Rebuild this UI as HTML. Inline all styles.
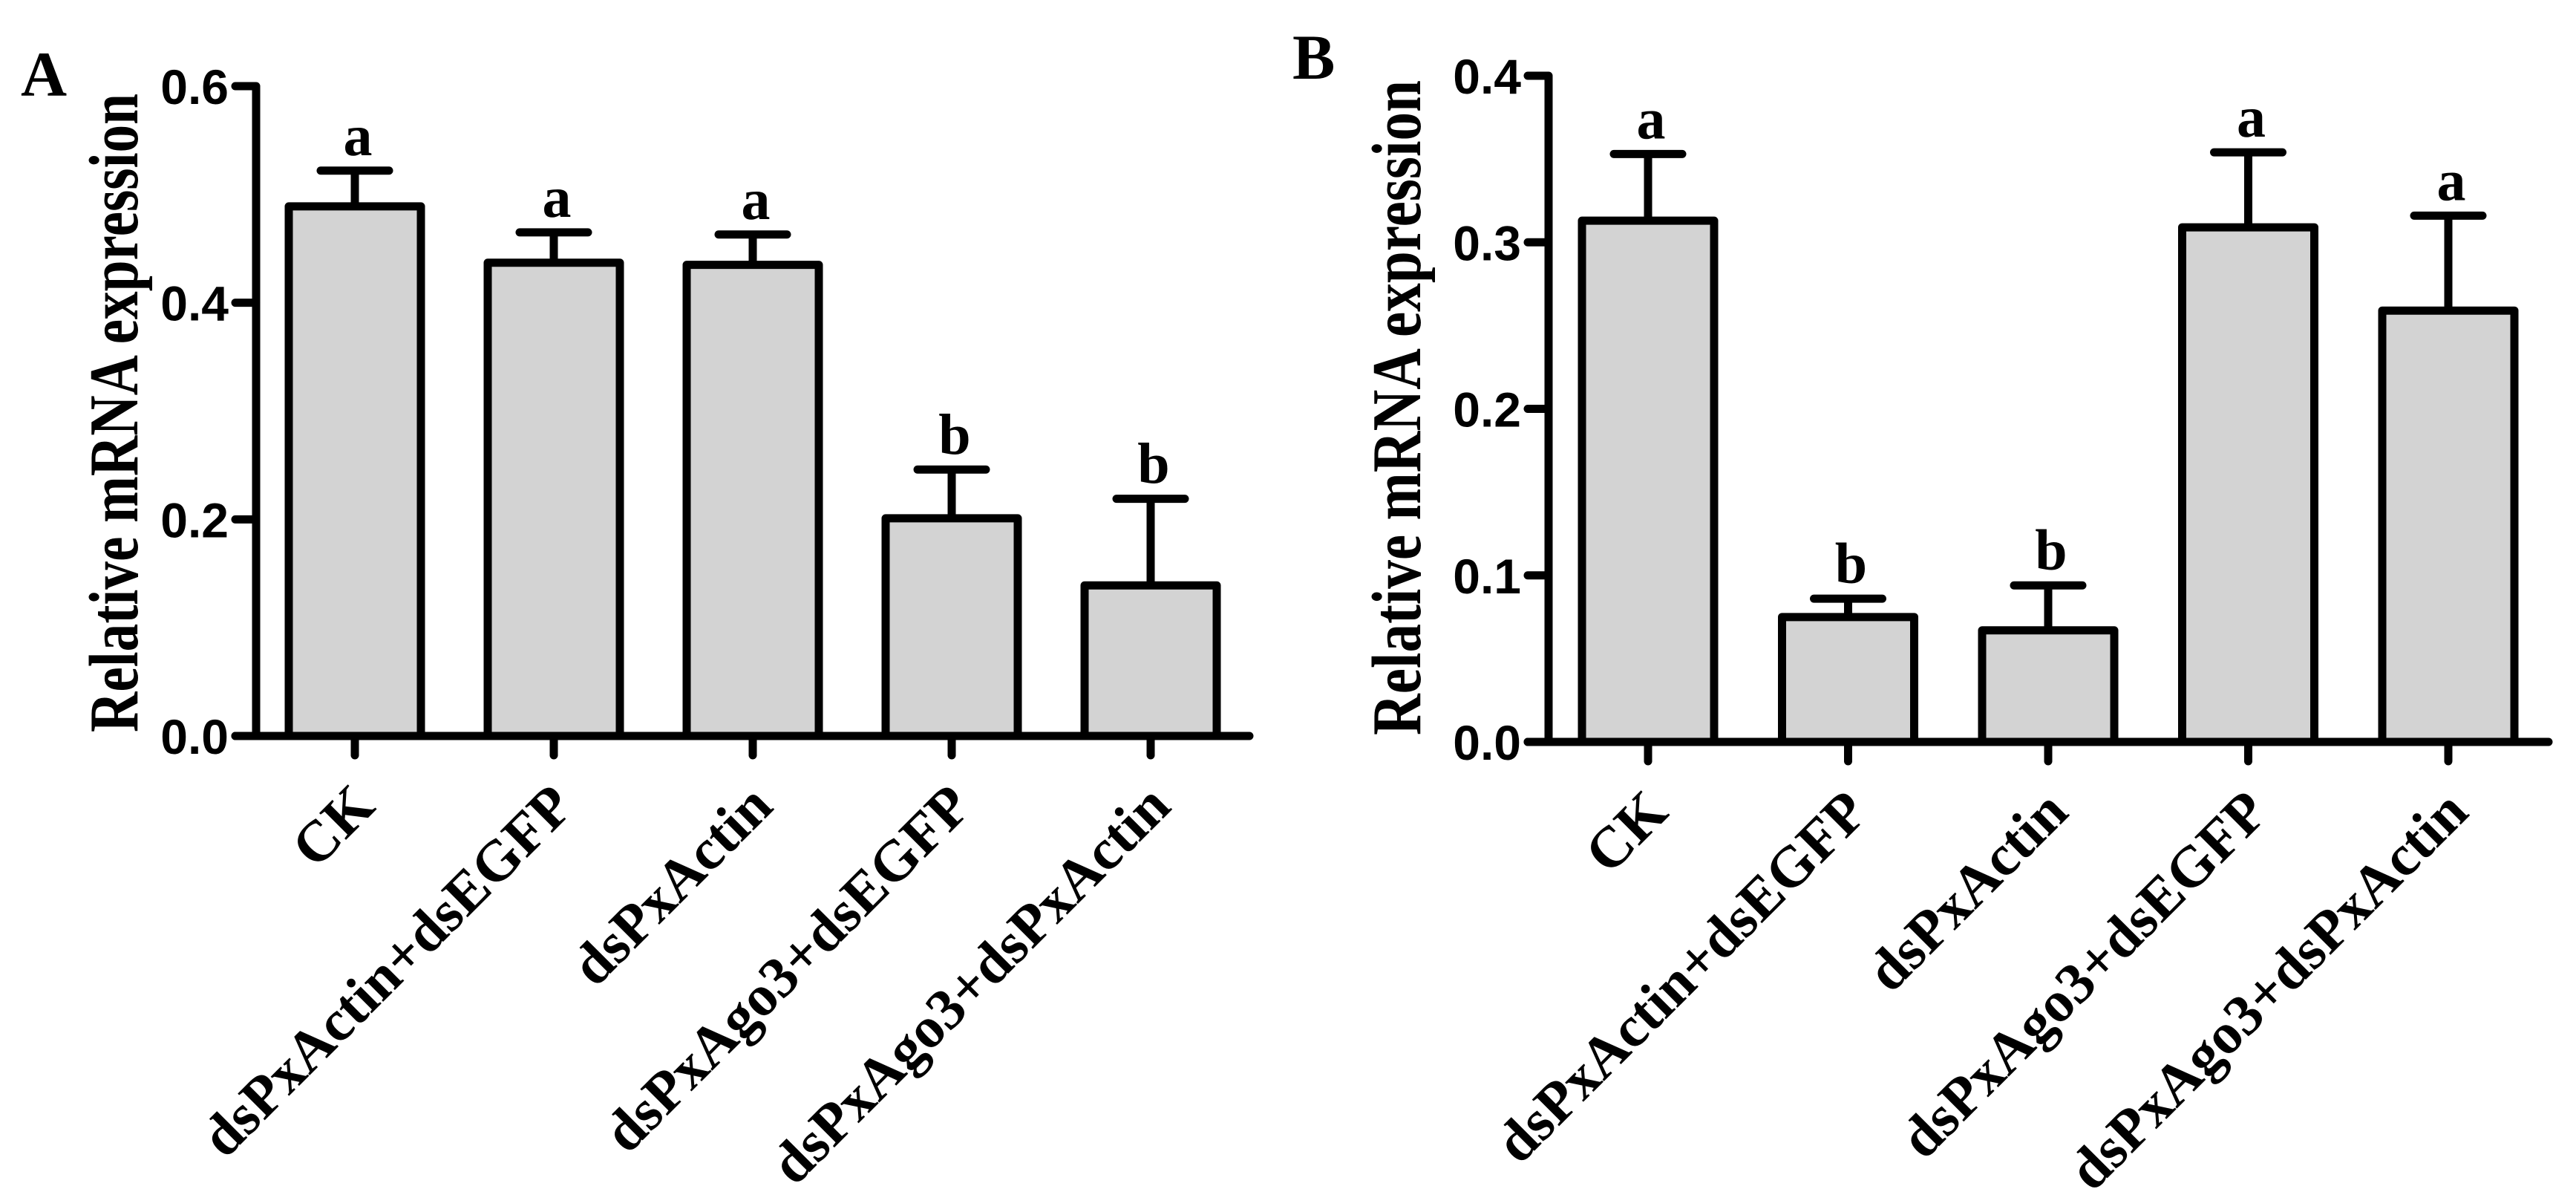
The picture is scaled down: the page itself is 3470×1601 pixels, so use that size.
<!DOCTYPE html>
<html><head><meta charset="utf-8"><style>html,body{margin:0;padding:0;background:#fff}svg{display:block}</style></head>
<body>
<svg id="chart" width="3470" height="1601" viewBox="0 0 3470 1601" xmlns="http://www.w3.org/2000/svg">
<g id="panelA"></g>
<g id="panelB"></g>
</svg>
<script>
const categories = ["CK","dsPxActin+dsEGFP","dsPxActin","dsPxAgo3+dsEGFP","dsPxAgo3+dsPxActin"];
const valuesA = [0.489, 0.437, 0.435, 0.201, 0.139];
const errorsA = [0.033, 0.028, 0.028, 0.045, 0.080];
const lettersA = ["a","a","a","b","b"];
const ticksA = [0.0, 0.2, 0.4, 0.6];
const tickLabelsA = ["0.0","0.2","0.4","0.6"];
const valuesB = [0.313, 0.075, 0.067, 0.309, 0.259];
const errorsB = [0.040, 0.011, 0.027, 0.045, 0.057];
const lettersB = ["a","b","b","a","a"];
const ticksB = [0.0, 0.1, 0.2, 0.3, 0.4];
const tickLabelsB = ["0.0","0.1","0.2","0.3","0.4"];

const NS = "http://www.w3.org/2000/svg";
function mk(tag, attrs, parent){ const e=document.createElementNS(NS,tag); for(const k in attrs) e.setAttribute(k,attrs[k]); parent.appendChild(e); return e; }

function drawPanel(g, cfg){
  const y = v => cfg.y0 - (v - 0) / cfg.ymax * (cfg.y0 - cfg.ytop);
  const xc = i => cfg.x1 + i * cfg.step;
  const lw = 11;
  const pl = mk("text",{x:cfg.lx,y:cfg.ly,"font-family":"Liberation Serif, serif","font-weight":"bold","font-size":86},g);
  pl.textContent = cfg.letter;
  
  
  const yt = mk("text",{transform:`translate(${cfg.tx},${cfg.tcy}) rotate(-90)`,"text-anchor":"middle","font-family":"Liberation Serif, serif","font-weight":"bold","font-size":94,textLength:cfg.tlen,lengthAdjust:"spacingAndGlyphs"},g);
  yt.textContent = "Relative mRNA expression";
  
  
  cfg.values.forEach((v,i)=>{
    const cx = xc(i), top = y(v), eTop = y(v + cfg.errors[i]);
    const err = mk("line",{x1:cx,x2:cx,y1:top,y2:eTop,stroke:"#000","stroke-width":lw},g);
    
    
    const cap = mk("line",{x1:cx-46,x2:cx+46,y1:eTop,y2:eTop,stroke:"#000","stroke-width":lw,"stroke-linecap":"round"},g);
    
    
    const r = mk("rect",{x:cx-cfg.hw,y:top,width:2*cfg.hw,height:cfg.y0-top,fill:"#d3d3d3",stroke:"#000","stroke-width":lw,"stroke-linejoin":"round"},g);
    
    
    const t = mk("text",{x:cx+4,y:eTop-21,"text-anchor":"middle","font-family":"Liberation Serif, serif","font-weight":"bold","font-size":78},g);
    t.textContent = cfg.letters[i];
    
    
    const tk = mk("line",{x1:cx,x2:cx,y1:cfg.y0,y2:cfg.y0+26,stroke:"#000","stroke-width":lw,"stroke-linecap":"round"},g);
    
    
    const xl = mk("text",{transform:`translate(${cx+30},${cfg.y0+98}) rotate(-45)`,"text-anchor":"end","font-family":"Liberation Serif, serif","font-weight":"bold","font-size":78},g);
    xl.textContent = categories[i];
    
    
  });
  const ya = mk("line",{x1:cfg.ax,x2:cfg.ax,y1:cfg.ytop,y2:cfg.y0,stroke:"#000","stroke-width":lw},g);
  
  
  const xa = mk("line",{x1:cfg.ax-28,x2:cfg.xend,y1:cfg.y0,y2:cfg.y0,stroke:"#000","stroke-width":lw,"stroke-linecap":"round"},g);
  
  
  cfg.ticks.forEach((v,i)=>{
    const ty = y(v);
    const tl = mk("line",{x1:cfg.ax-28,x2:cfg.ax,y1:ty,y2:ty,stroke:"#000","stroke-width":lw,"stroke-linecap":"round"},g);
    
    
    const tt = mk("text",{x:cfg.ax-37,y:ty+24,"text-anchor":"end","font-family":"Liberation Sans, sans-serif","font-weight":"bold","font-size":66},g);
    tt.textContent = cfg.tickLabels[i];
    
    
  });
}

drawPanel(document.getElementById('panelA'),{letter:"A",lx:28,ly:129,tx:185,tcy:556,tlen:860,
  ax:345,ytop:116,y0:991,ymax:0.6,x1:478,step:268,hw:89,xend:1683,
  values:valuesA,errors:errorsA,letters:lettersA,ticks:ticksA,tickLabels:tickLabelsA});
drawPanel(document.getElementById('panelB'),{letter:"B",lx:1741,ly:106,tx:1913,tcy:549,tlen:882,
  ax:2086,ytop:102,y0:999,ymax:0.4,x1:2220,step:269.5,hw:89,xend:3433,
  values:valuesB,errors:errorsB,letters:lettersB,ticks:ticksB,tickLabels:tickLabelsB});
</script>
</body></html>
